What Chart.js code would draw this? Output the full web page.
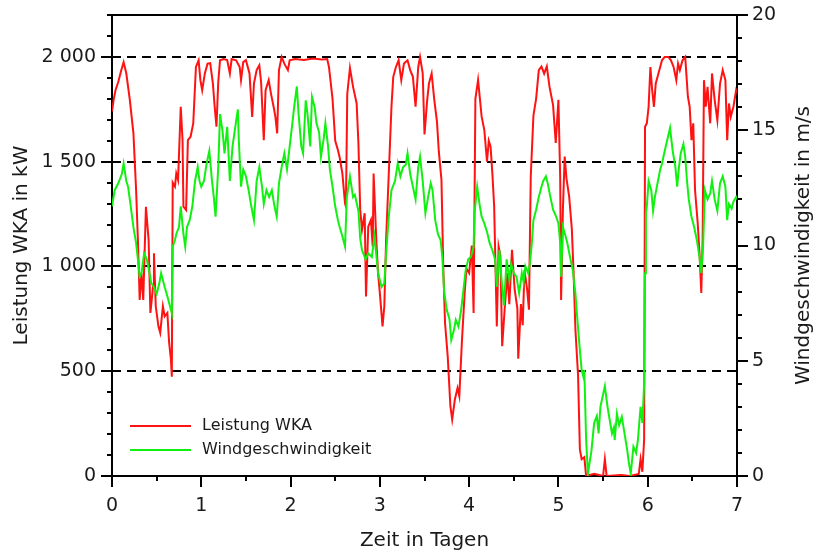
<!DOCTYPE html>
<html>
<head>
<meta charset="utf-8">
<title>Leistung WKA und Windgeschwindigkeit</title>
<script src="https://cdn.jsdelivr.net/npm/chart.js@4.4.1/dist/chart.umd.min.js"></script>
<style>
  html, body { margin: 0; padding: 0; background: #fff; }
  #wka_chart { display: block; }
</style>
</head>
<body>
<canvas id="wka_chart" width="816" height="553"></canvas>
<script>
"use strict";

// Leistung der WKA (kW)
var powerDays = [0.00,0.02,0.04,0.07,0.10,0.13,0.16,0.20,0.24,0.27,0.29,0.31,0.33,0.35,0.38,0.41,0.43,0.46,0.47,0.49,
    0.52,0.54,0.57,0.59,0.62,0.64,0.66,0.67,0.68,0.705,0.72,0.74,0.77,0.79,0.80,0.83,0.85,0.88,0.91,0.94,
    0.97,0.99,1.01,1.04,1.07,1.10,1.13,1.15,1.17,1.19,1.21,1.25,1.29,1.32,1.34,1.39,1.43,1.445,1.47,1.50,
    1.54,1.57,1.59,1.62,1.65,1.67,1.70,1.72,1.755,1.78,1.81,1.83,1.85,1.87,1.90,1.93,1.97,1.99,2.05,2.15,
    2.25,2.35,2.41,2.43,2.47,2.50,2.53,2.55,2.58,2.61,2.62,2.635,2.665,2.70,2.74,2.76,2.78,2.80,2.83,2.845,
    2.87,2.90,2.92,2.93,2.96,2.98,3.00,3.03,3.05,3.07,3.10,3.13,3.15,3.18,3.21,3.24,3.27,3.31,3.34,3.37,
    3.40,3.43,3.45,3.48,3.50,3.53,3.55,3.58,3.61,3.64,3.66,3.69,3.71,3.73,3.76,3.79,3.81,3.84,3.87,3.89,
    3.92,3.95,3.97,4.00,4.03,4.05,4.07,4.10,4.14,4.17,4.20,4.22,4.24,4.26,4.28,4.31,4.33,4.35,4.37,4.40,
    4.43,4.45,4.48,4.51,4.54,4.55,4.58,4.60,4.62,4.65,4.67,4.69,4.72,4.75,4.78,4.81,4.84,4.87,4.90,4.94,
    4.97,5.00,5.02,5.03,5.05,5.07,5.09,5.12,5.15,5.17,5.19,5.22,5.24,5.26,5.29,5.31,5.40,5.50,5.52,5.54,
    5.70,5.80,5.90,5.92,5.94,5.96,5.97,5.99,6.01,6.03,6.05,6.07,6.09,6.12,6.16,6.19,6.23,6.26,6.29,6.32,
    6.34,6.36,6.39,6.42,6.45,6.47,6.49,6.51,6.53,6.56,6.58,6.60,6.615,6.63,6.65,6.67,6.70,6.72,6.75,6.78,
    6.81,6.84,6.87,6.89,6.91,6.93,6.96,6.99,7.00];
var powerKW = [1740,1800,1842,1880,1930,1975,1922,1794,1635,1365,1126,840,968,840,1285,1127,778,905,1063,810,
    714,683,810,762,778,635,556,474,1400,1381,1444,1413,1762,1603,1286,1270,1603,1619,1683,1952,
    1984,1889,1841,1921,1968,1970,1873,1762,1667,1880,1984,1990,1985,1921,1990,1984,1952,1889,1975,1984,
    1921,1714,1873,1937,1960,1880,1603,1841,1889,1826,1762,1714,1635,1937,2000,1968,1937,1984,1990,1985,
    1992,1988,1990,1952,1800,1600,1556,1520,1444,1300,1286,1823,1947,1857,1778,1587,1270,1175,1254,857,
    1190,1222,1095,1444,1127,968,873,714,810,1127,1444,1762,1905,1952,1984,1889,1968,1984,1937,1905,
    1762,1952,2000,1921,1630,1794,1873,1921,1794,1690,1550,1413,1000,730,571,333,270,365,420,381,
    651,873,990,968,1100,778,1800,1890,1715,1651,1500,1600,1572,1444,1290,714,1095,1050,619,810,
    968,820,1079,889,800,560,820,720,983,888,794,1429,1720,1800,1937,1954,1920,1955,1858,1770,
    1589,1795,1420,840,1270,1524,1420,1334,1180,968,700,480,127,80,90,0,10,0,80,0,
    5,0,10,80,20,175,1667,1683,1762,1952,1841,1762,1873,1921,1984,2000,2000,1984,1952,1889,
    1968,1937,1984,2000,1810,1762,1603,1683,1365,1206,1064,873,1127,1889,1762,1857,1683,1921,1794,1698,
    1873,1937,1889,1603,1778,1714,1762,1841,1830];

// Windgeschwindigkeit (m/s)
var windDays = [0.00,0.03,0.07,0.11,0.13,0.16,0.18,0.21,0.24,0.27,0.29,0.31,0.33,0.36,0.39,0.42,0.44,0.47,0.50,0.53,
    0.55,0.59,0.62,0.65,0.67,0.68,0.705,0.72,0.75,0.77,0.80,0.82,0.84,0.87,0.90,0.93,0.96,0.98,1.00,1.03,
    1.06,1.09,1.12,1.14,1.16,1.19,1.21,1.24,1.26,1.29,1.32,1.35,1.39,1.41,1.42,1.445,1.47,1.50,1.53,1.56,
    1.59,1.62,1.65,1.68,1.70,1.73,1.76,1.79,1.82,1.845,1.87,1.90,1.93,1.96,1.99,2.02,2.04,2.07,2.09,2.12,
    2.14,2.17,2.19,2.22,2.24,2.27,2.29,2.32,2.34,2.37,2.39,2.42,2.44,2.47,2.50,2.53,2.55,2.58,2.61,2.63,
    2.665,2.70,2.72,2.76,2.78,2.80,2.84,2.87,2.91,2.94,2.98,3.02,3.05,3.07,3.10,3.13,3.17,3.20,3.23,3.26,
    3.29,3.31,3.34,3.37,3.40,3.43,3.45,3.48,3.51,3.54,3.57,3.59,3.62,3.65,3.68,3.70,3.72,3.75,3.78,3.80,
    3.83,3.85,3.88,3.91,3.94,3.96,3.99,4.02,4.05,4.06,4.09,4.12,4.14,4.17,4.20,4.23,4.26,4.29,4.31,4.34,
    4.36,4.39,4.42,4.45,4.47,4.50,4.53,4.56,4.59,4.61,4.63,4.66,4.68,4.70,4.72,4.75,4.78,4.81,4.83,4.86,
    4.88,4.91,4.94,4.97,5.00,5.02,5.03,5.05,5.08,5.10,5.13,5.16,5.19,5.21,5.24,5.26,5.28,5.29,5.31,5.33,
    5.37,5.40,5.43,5.45,5.47,5.52,5.55,5.58,5.60,5.62,5.63,5.655,5.68,5.71,5.74,5.77,5.79,5.81,5.84,5.87,
    5.89,5.92,5.94,5.96,5.97,5.98,5.99,6.01,6.04,6.06,6.08,6.11,6.14,6.16,6.19,6.22,6.25,6.28,6.31,6.33,
    6.35,6.37,6.40,6.42,6.44,6.46,6.49,6.52,6.55,6.58,6.60,6.62,6.64,6.67,6.70,6.72,6.75,6.78,6.81,6.84,
    6.87,6.89,6.91,6.94,6.96,6.99,7.00];
var windSpeed = [11.7,12.4,12.7,13.1,13.56,12.8,12.55,11.7,10.8,10.1,9.4,8.65,8.8,9.66,9.4,8.8,8.36,8.2,7.9,8.36,
    8.8,8.2,7.8,7.35,7.06,9.95,10.24,10.5,10.8,11.7,10.5,9.95,10.8,11.1,11.7,12.8,13.4,12.8,12.55,12.8,
    13.56,14.1,12.8,12.1,11.25,13.4,15.7,14.9,14.0,15.15,12.8,14.3,15.4,15.9,14.6,12.55,13.3,13.0,12.4,11.7,
    11.1,12.8,13.4,12.55,11.8,12.4,12.1,12.4,11.7,11.25,12.7,13.4,14.0,13.3,14.3,15.3,16.0,16.9,15.7,14.3,
    14.0,16.3,15.7,14.3,16.45,16.0,15.3,14.9,13.85,14.6,15.3,14.3,13.3,12.55,11.7,11.1,10.8,10.4,9.95,12.1,
    13.0,12.1,12.2,11.5,10.3,9.8,9.4,9.66,9.5,10.4,8.8,8.2,8.36,9.66,11.25,12.4,12.8,13.56,13.0,13.4,
    13.5,14.0,13.1,12.55,12.0,13.4,13.85,12.8,11.4,12.1,12.7,12.4,11.1,10.5,10.24,9.5,8.0,7.2,6.8,5.9,
    6.33,6.77,6.48,7.2,8.2,8.9,9.4,9.5,9.95,11.4,12.55,11.7,11.25,10.96,10.6,10.1,9.8,9.4,8.2,9.8,
    8.65,7.4,9.4,8.5,9.2,8.8,8.65,7.93,8.8,8.4,9.1,8.8,9.2,10.0,11.1,11.55,12.1,12.55,12.8,13.0,
    12.7,12.1,11.55,11.3,10.96,10.1,8.65,10.8,10.4,10.1,9.5,8.95,7.93,6.9,5.47,4.6,4.3,4.6,1.6,0.1,
    1.1,2.3,2.6,1.85,3.0,3.9,3.0,2.3,1.85,2.1,1.56,2.7,2.2,2.57,1.85,1.13,0.55,0.1,1.27,1.0,
    1.56,3.0,2.3,4.0,8.8,11.4,11.7,12.8,12.4,11.5,12.1,12.7,13.3,13.56,14.1,14.6,15.1,14.1,13.4,12.55,
    13.4,14.0,14.4,13.85,12.8,12.0,11.25,10.8,10.24,9.5,8.8,9.95,12.4,12.0,12.26,12.8,12.0,11.5,12.7,13.0,
    12.55,11.1,11.8,11.6,11.9,12.1,12.0];

// Achsenbeschriftung
var powerTicks = [0, 500, 1000, 1500, 2000];
var windTicks = [0, 5, 10, 15, 20];
var dayTicks = [0, 1, 2, 3, 4, 5, 6, 7];

var WkaChart = function () {

    var chart = null;
    var ctx;
    var textColor = '#1a1a1a';
    var fontFamily = "'DejaVu Sans', 'Liberation Sans', sans-serif";
    var redColor = '#ff1212';
    var greenColor = '#12f012';

    function toPoints(days, values) {
        var pts = [];
        for (var i = 0; i < days.length; i++) {
            pts.push({ x: days[i], y: values[i] });
        }
        return pts;
    }

    // "2 000" statt "2000"
    function formatKW(v) {
        if (v >= 1000) {
            return Math.floor(v / 1000) + ' ' + String(v % 1000).padStart(3, '0');
        }
        return String(v);
    }

    function fixedTicks(list) {
        return function (scale) {
            scale.ticks = list.map(function (v) { return { value: v }; });
        };
    }

    // gestrichelte Linien hinter den Kurven
    const dashedGrid = {
        id: 'dashedGrid',
        beforeDatasetsDraw: function (c) {
            const a = c.chartArea;
            const sy = c.scales.y;
            const g = c.ctx;
            g.save();
            g.strokeStyle = '#000';
            g.lineWidth = 2;
            g.setLineDash([9, 6]);
            powerTicks.forEach(function (v) {
                if (v === 0) return;
                const py = Math.round(sy.getPixelForValue(v));
                g.beginPath();
                g.moveTo(a.left, py);
                g.lineTo(a.right, py);
                g.stroke();
            });
            g.restore();
        }
    };

    // Rahmen oben, Teilstriche, Legende, rechter Achsentitel
    const extras = {
        id: 'extras',
        afterDraw: function (c) {
            const a = c.chartArea;
            const sx = c.scales.x, sy = c.scales.y, sw = c.scales.y2;
            const g = c.ctx;
            g.save();
            g.strokeStyle = '#000';
            g.lineWidth = 2;
            g.beginPath();
            g.moveTo(a.left - 1, a.top);
            g.lineTo(a.right + 1, a.top);
            for (let d = 0; d <= 14; d++) {
                const px = Math.round(sx.getPixelForValue(d / 2));
                g.moveTo(px, a.bottom);
                g.lineTo(px, a.bottom + (d % 2 === 0 ? 11 : 5));
            }
            for (let k = 0; k <= 22; k++) {
                const py = Math.round(sy.getPixelForValue(k * 100));
                g.moveTo(a.left, py);
                g.lineTo(a.left - (k % 5 === 0 ? 11 : 5), py);
            }
            for (let w = 0; w <= 20; w++) {
                const py = Math.round(sw.getPixelForValue(w));
                g.moveTo(a.right, py);
                g.lineTo(a.right + (w % 5 === 0 ? 11 : 5), py);
            }
            g.stroke();

            // Legende
            g.font = '16px ' + fontFamily;
            g.textBaseline = 'middle';
            g.textAlign = 'left';
            const rows = [c.data.datasets[0], c.data.datasets[1]];
            rows.forEach(function (ds, i) {
                const ly = 426 + i * 24;
                g.strokeStyle = ds.borderColor;
                g.lineWidth = 2;
                g.beginPath();
                g.moveTo(130, ly);
                g.lineTo(191, ly);
                g.stroke();
                g.fillStyle = textColor;
                g.fillText(ds.label, 202, ly);
            });

            // rechter Achsentitel, von unten nach oben
            g.translate(804, (a.top + a.bottom) / 2);
            g.rotate(-Math.PI / 2);
            g.font = '20px ' + fontFamily;
            g.textAlign = 'center';
            g.fillStyle = textColor;
            g.fillText('Windgeschwindigkeit in m/s', 0, 0);
            g.restore();
        }
    };

    function init() {
        const data = {
            datasets: [
                {
                    label: 'Leistung WKA',
                    data: toPoints(powerDays, powerKW),
                    borderColor: redColor,
                    backgroundColor: 'transparent',
                    yAxisID: 'y',
                    order: 2
                },
                {
                    label: 'Windgeschwindigkeit',
                    data: toPoints(windDays, windSpeed),
                    borderColor: greenColor,
                    backgroundColor: 'transparent',
                    yAxisID: 'y2',
                    order: 1
                }
            ]
        };
        const config = {
            type: 'line',
            data: data,
            options: {
                responsive: false,
                animation: false,
                devicePixelRatio: 1,
                layout: { padding: { top: 15, left: 0, right: 0, bottom: 0 } },
                elements: {
                    line: { borderWidth: 2, tension: 0 },
                    point: { radius: 0 }
                },
                plugins: {
                    legend: { display: false },
                    tooltip: { enabled: false },
                    title: { display: false }
                },
                scales: {
                    x: {
                        type: 'linear',
                        min: 0,
                        max: 7,
                        afterBuildTicks: fixedTicks(dayTicks),
                        ticks: { padding: 19, color: textColor, font: { family: fontFamily, size: 19 } },
                        grid: { display: false, drawTicks: false },
                        border: { display: true, color: '#000', width: 2 },
                        title: { display: true, text: 'Zeit in Tagen', color: textColor, font: { family: fontFamily, size: 20, lineHeight: 1.2 }, padding: { top: 0, bottom: 0 } },
                        afterFit: function (s) { s.height = 77; s.paddingLeft = 0; s.paddingRight = 0; }
                    },
                    y: {
                        position: 'left',
                        min: 0,
                        max: 2200,
                        afterBuildTicks: fixedTicks(powerTicks),
                        ticks: { padding: 16, color: textColor, font: { family: fontFamily, size: 19 }, callback: formatKW },
                        grid: { display: false, drawTicks: false },
                        border: { display: true, color: '#000', width: 2 },
                        title: { display: true, text: 'Leistung WKA in kW', color: textColor, font: { family: fontFamily, size: 20, lineHeight: 1.2 }, padding: { top: 10, bottom: 0 } },
                        afterFit: function (s) { s.width = 112; s.paddingTop = 0; s.paddingBottom = 0; }
                    },
                    y2: {
                        position: 'right',
                        min: 0,
                        max: 20,
                        afterBuildTicks: fixedTicks(windTicks),
                        ticks: { padding: 15, color: textColor, font: { family: fontFamily, size: 19 } },
                        grid: { display: false, drawTicks: false },
                        border: { display: true, color: '#000', width: 2 },
                        afterFit: function (s) { s.width = 79; s.paddingTop = 0; s.paddingBottom = 0; }
                    }
                }
            },
            plugins: [dashedGrid, extras]
        };
        chart = new Chart(ctx, config);
    }

    return {
        init: function () {
            ctx = document.getElementById('wka_chart');
            init();
        }
    };
}();

WkaChart.init();
</script>
</body>
</html>
